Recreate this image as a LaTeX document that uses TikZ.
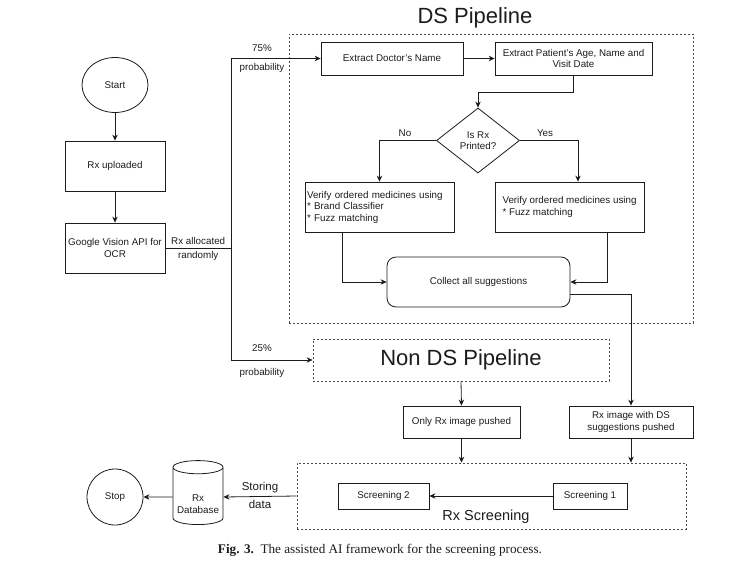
\documentclass[tikz,border=0pt]{standalone}
\usepackage{fontspec}
\setmainfont{Liberation Sans}
\newfontfamily\capfont{Liberation Serif}
\usetikzlibrary{arrows.meta,shapes.geometric}
\definecolor{ink}{HTML}{1C1C1C}
\definecolor{dashgray}{HTML}{4A4A4A}

\begin{document}
\begin{tikzpicture}[x=1pt,y=-1pt,text=ink,
    font=\fontsize{9.8}{11.5}\selectfont,
    box/.style={draw=ink,line width=.8pt,align=center,inner sep=1pt},
    frame/.style={draw=dashgray,line width=.8pt,dash pattern=on 2pt off 2pt},
    arr/.style={draw=ink,line width=.8pt,-{Stealth[length=6pt,width=5.5pt]}},
    link/.style={draw=ink,line width=.8pt},
    bigtitle/.style={font=\fontsize{22}{26}\selectfont}]
  \useasboundingbox (0,0) rectangle (741,576);

  \node[draw=ink,line width=.8pt,ellipse,minimum width=66,minimum height=55]
    (start) at (115,85) {Start};
  \node[box,minimum width=100,minimum height=50] (upload) at (115,166) {Rx uploaded};
  \node[box,minimum width=100,minimum height=50] (ocr) at (115,248)
    {Google Vision API for\\OCR};
  \coordinate (split) at (231,248);

  \node[frame,minimum width=404,minimum height=289] (ds) at (491,178.5) {};
  \node[bigtitle] (dstitle) at (475,18) {DS Pipeline};
  \node[box,minimum width=142,minimum height=33] (doctor) at (392,58.5)
    {Extract Doctor's Name};
  \node[box,minimum width=157,minimum height=33] (patient) at (573.5,58.5)
    {Extract Patient's Age, Name and\\Visit Date};
  \node[draw=ink,line width=.8pt,diamond,align=center,inner sep=0pt,
    minimum width=83,minimum height=65] (printed) at (478,140.5) {Is Rx\\Printed?};
  \node (no) at (405,133) {No};
  \node (yes) at (545,133) {Yes};
  \node[box,minimum width=149,minimum height=50,text width=145,align=left]
    (verifyno) at (379.5,207)
    {Verify ordered medicines using\\{}* Brand Classifier\\{}* Fuzz matching};
  \node[box,minimum width=149,minimum height=50,align=left] (verifyyes) at (569.5,207)
    {Verify ordered medicines using\\{}* Fuzz matching};
  \node[box,rounded corners=9pt,minimum width=183,minimum height=50]
    (collect) at (478.5,282) {Collect all suggestions};

  \node[frame,bigtitle,minimum width=296,minimum height=42] (nonds) at (461,360)
    {Non DS Pipeline};
  \node[box,minimum width=117,minimum height=32] (only) at (461.5,422)
    {Only Rx image pushed};
  \node[box,minimum width=124,minimum height=32] (dsdone) at (631,422)
    {Rx image with DS\\suggestions pushed};

  \node[frame,minimum width=389,minimum height=66] (screen) at (491.5,496) {};
  \node[box,minimum width=74,minimum height=26] (screenone) at (590,496) {Screening 1};
  \node[box,minimum width=91,minimum height=26] (screentwo) at (383.5,496) {Screening 2};
  \node[font=\fontsize{14.5}{17}\selectfont] (screentitle) at (486,517) {Rx Screening};

  \node[draw=ink,line width=.8pt,cylinder,shape border rotate=90,aspect=.3,
    align=center,minimum width=50,minimum height=64,inner sep=1pt]
    (db) at (198,497) {\mbox{}\\[10pt]Rx\\Database};
  \node[draw=ink,line width=.8pt,circle,minimum size=56] (stop) at (115,497) {Stop};

  \node (pcttop) at (262,48) {75\%};
  \node (probtop) at (262,68) {probability};
  \node (pctlow) at (262,348) {25\%};
  \node (problow) at (262,373) {probability};

  \draw[arr] (start) -- (upload);
  \draw[arr] (upload) -- (ocr);
  \draw[link] (ocr.east) -- node[above] {Rx allocated} node[below] {randomly} (split);
  \draw[arr] (split) |- (doctor.west);
  \draw[arr] (split) |- (nonds.west);
  \draw[arr] (doctor) -- (patient);
  \draw[arr] (patient.south) -- ++(0,16.5) -| (printed.north);
  \draw[arr] (printed.west) -| (verifyno.north);
  \draw[arr] (printed.east) -| ([xshift=8.5pt]verifyyes.north);
  \draw[arr] ([xshift=-37.5pt]verifyno.south) |- (collect.west);
  \draw[arr] ([xshift=37.5pt]verifyyes.south) |- (collect.east);
  \draw[arr] ([yshift=-12pt]collect.east) -| (dsdone.north);
  \draw[arr] (nonds.south) -- (only.north);
  \draw[arr] (only.south) -- (only.south |- screen.north);
  \draw[arr] (dsdone.south) -- (dsdone.south |- screen.north);
  \draw[arr] (screenone) -- (screentwo);
  \draw[arr] (screen.west) -- node[above,font=\fontsize{11.5}{14}\selectfont] {Storing}
    node[below,font=\fontsize{11.5}{14}\selectfont] {data} (db.east);
  \draw[arr] (db.west) -- (stop.east);

  \node[font=\capfont\fontsize{13.2}{15}\selectfont] (caption) at (380,550)
    {\textbf{Fig. 3.}\enspace The assisted AI framework for the screening process.};
\end{tikzpicture}
\end{document}
